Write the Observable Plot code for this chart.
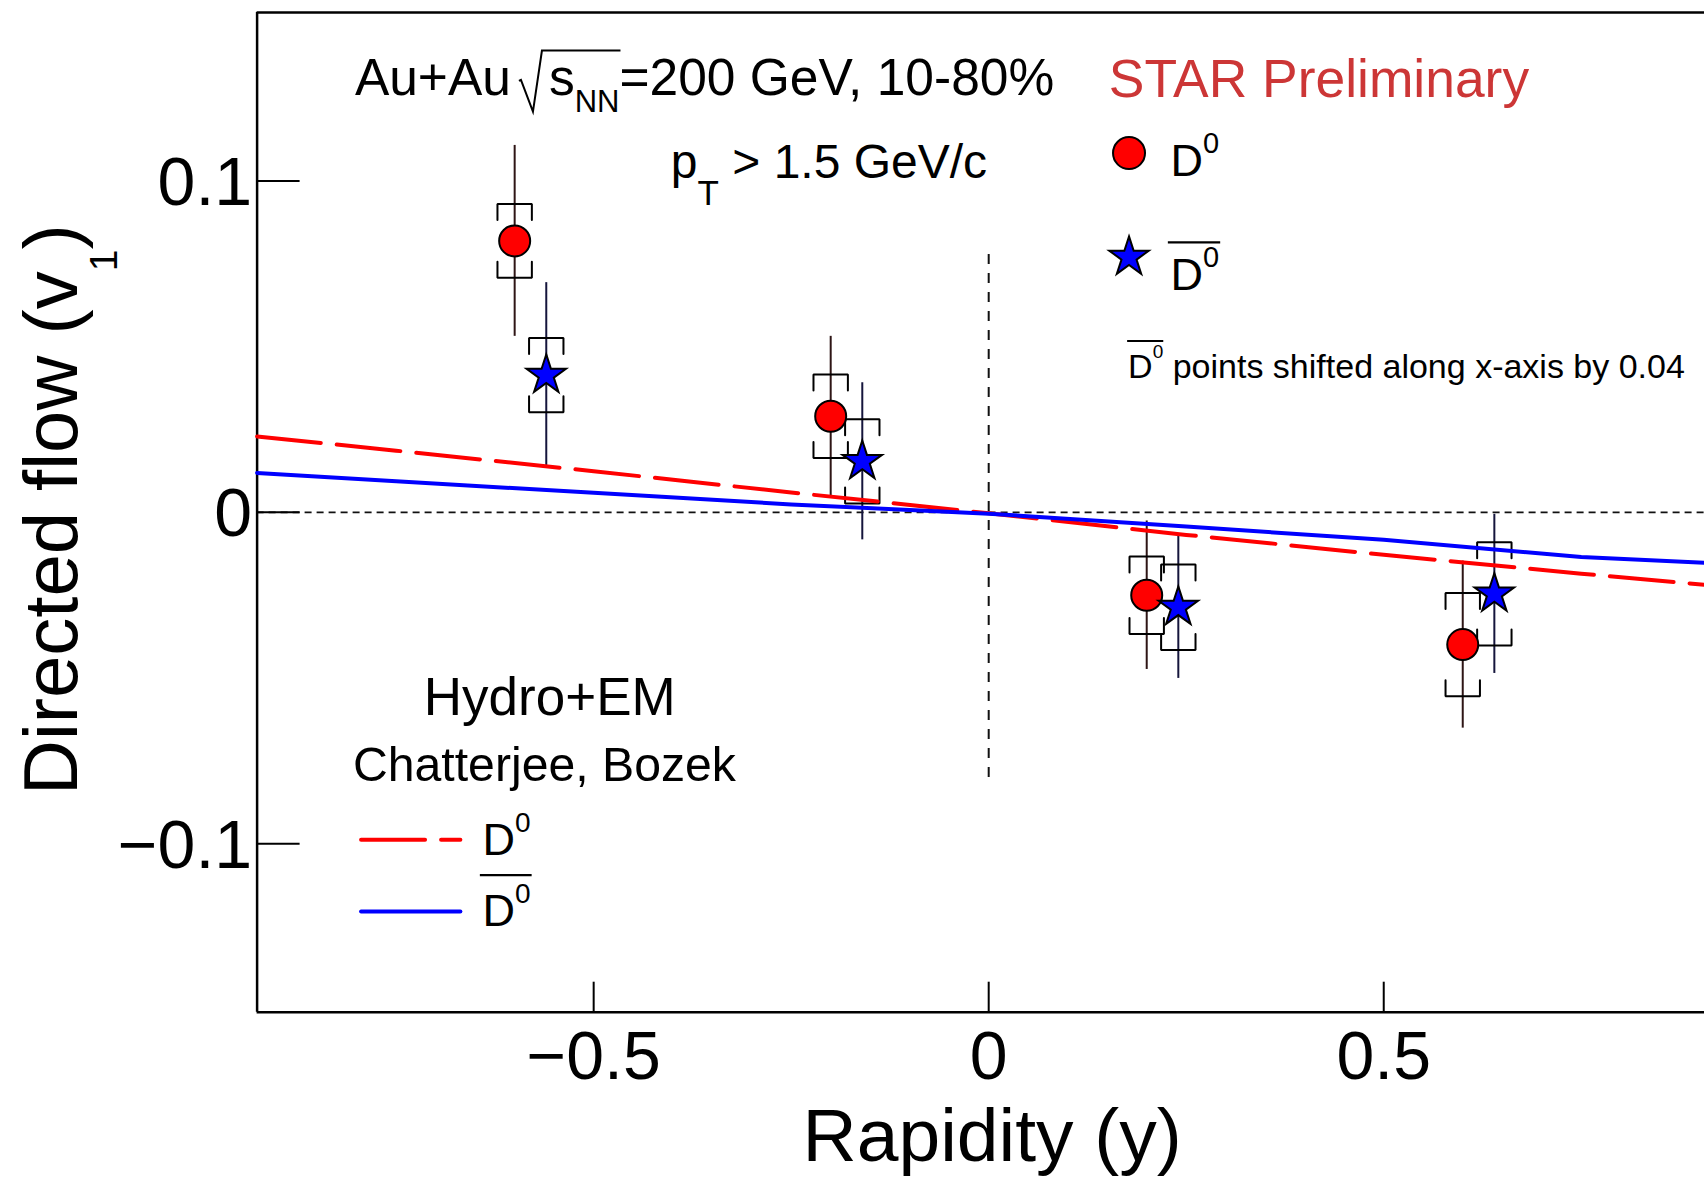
<!DOCTYPE html>
<html>
<head>
<meta charset="utf-8">
<script src="https://cdn.jsdelivr.net/npm/d3@7"></script>
<script src="https://cdn.jsdelivr.net/npm/@observablehq/plot@0.6"></script>
<style>
  html, body { margin: 0; padding: 0; background: #fff; overflow: hidden; }
  #chart { width: 1704px; height: 1179px; }
</style>
</head>
<body>
<div id="chart"></div>
<script>
// ---------------- data ----------------
const d0Rapidity = [-0.6, -0.2, 0.2, 0.6];
const d0V1       = [0.0819, 0.0290, -0.0250, -0.0399];
const d0Stat     = [0.0288, 0.0241, 0.0224, 0.0252];
const d0Sys      = [0.0111, 0.0126, 0.0117, 0.0156];

const d0barRapidity = [-0.56, -0.16, 0.24, 0.64];
const d0barV1       = [0.0414, 0.0154, -0.0286, -0.0246];
const d0barStat     = [0.0279, 0.0237, 0.0215, 0.0240];
const d0barSys      = [0.0112, 0.0127, 0.0129, 0.0156];

// Hydro+EM model (Chatterjee, Bozek)
const modelRapidity = [-0.926, -0.75, -0.5, -0.25, 0, 0.25, 0.5, 0.75, 1.0];
const modelD0V1     = [0.0229, 0.0186, 0.0124, 0.0060, -0.0003, -0.0068, -0.0128, -0.0185, -0.0239];
const modelD0barV1  = [0.0119, 0.0094, 0.0059, 0.0024, -0.0004, -0.0043, -0.0083, -0.0135, -0.0162];

const xTicks = [-0.5, 0, 0.5];
const yTicks = [-0.1, 0, 0.1];
const centerLineRange = [-0.08, 0.08];

// ---------------- layout ----------------
const W = 1704, H = 1179;
const M = {left: 256.6, right: 0, top: 12, bottom: 167.3};
const xDomain = [-0.926, 0.906];
const yDomain = [-0.1508, 0.1508];
const pxPerX = (W - M.left - M.right) / (xDomain[1] - xDomain[0]);
const pxPerY = (H - M.top - M.bottom) / (yDomain[1] - yDomain[0]);
const FONT = "'Liberation Sans', Arial, Helvetica, sans-serif";
const fmt = d => d === 0 ? "0" : d3.format(".1f")(d);

const RED = "#ff0000", BLUE = "#0000ff";

// ---------------- derived tables ----------------
const d0Rows = d0Rapidity.map((x, i) => ({x, v: d0V1[i], stat: d0Stat[i], sys: d0Sys[i]}));
const d0barRows = d0barRapidity.map((x, i) => ({x, v: d0barV1[i], stat: d0barStat[i], sys: d0barSys[i]}));
const modelRows = modelRapidity.map((x, i) => ({x, d0: modelD0V1[i], d0bar: modelD0barV1[i]}));

const BR_HALF = 17.2 / pxPerX;   // bracket half width
const BR_TICK = 16 / pxPerY;     // bracket tick length
function brackets(rows, tag) {
  const out = [];
  rows.forEach((r, i) => {
    const top = r.v + r.sys, bot = r.v - r.sys;
    const a = `${tag}${i}t`, b = `${tag}${i}b`;
    out.push({id: a, x: r.x - BR_HALF, y: top - BR_TICK}, {id: a, x: r.x - BR_HALF, y: top},
             {id: a, x: r.x + BR_HALF, y: top}, {id: a, x: r.x + BR_HALF, y: top - BR_TICK});
    out.push({id: b, x: r.x - BR_HALF, y: bot + BR_TICK}, {id: b, x: r.x - BR_HALF, y: bot},
             {id: b, x: r.x + BR_HALF, y: bot}, {id: b, x: r.x + BR_HALF, y: bot + BR_TICK});
  });
  return out;
}
const bracketRows = [...brackets(d0Rows, "a"), ...brackets(d0barRows, "b")];

// legend positions (data coordinates)
const legendMarkers = [
  {x: 0.1776, y: 0.1084, kind: "d0"},
  {x: 0.1776, y: 0.0770, kind: "d0bar"}
];
const legendLineX = [-0.7944, -0.6687];
const legendLineY = {d0: -0.0988, d0bar: -0.1204};

const plot = Plot.plot({
  width: W, height: H,
  marginLeft: M.left, marginRight: M.right, marginTop: M.top, marginBottom: M.bottom,
  x: {domain: xDomain},
  y: {domain: yDomain},
  style: {fontFamily: FONT, background: "white", color: "black"},
  marks: [
    // zero / center guide lines
    Plot.ruleY([0], {stroke: "#111", strokeWidth: 1.7, strokeDasharray: "7,5"}),
    Plot.ruleX([0], {y1: centerLineRange[0], y2: centerLineRange[1], stroke: "#111", strokeWidth: 2, strokeDasharray: "10,9"}),
    // frame (left, top, bottom)
    Plot.ruleX([xDomain[0]], {stroke: "black", strokeWidth: 2.5}),
    Plot.ruleY([yDomain[0], yDomain[1]], {stroke: "black", strokeWidth: 2.5}),
    // inward ticks
    Plot.ruleY(yTicks, {x1: xDomain[0], x2: xDomain[0] + 43 / pxPerX, stroke: "black", strokeWidth: 2}),
    Plot.ruleX(xTicks, {y1: yDomain[0], y2: yDomain[0] + 30 / pxPerY, stroke: "black", strokeWidth: 2}),
    // tick labels
    Plot.axisX({ticks: xTicks, tickSize: 0, tickPadding: 19, fontSize: 68, tickFormat: fmt, label: null, anchor: "bottom"}),
    Plot.axisY({ticks: yTicks, tickSize: 0, tickPadding: 5, fontSize: 68, tickFormat: fmt, label: null, anchor: "left", dy: 2}),
    // statistical error bars
    Plot.ruleX(d0Rows, {x: "x", y1: d => d.v - d.stat, y2: d => d.v + d.stat, stroke: "#2e1515", strokeWidth: 2}),
    Plot.ruleX(d0barRows, {x: "x", y1: d => d.v - d.stat, y2: d => d.v + d.stat, stroke: "#15153c", strokeWidth: 2}),
    // systematic brackets
    Plot.line(bracketRows, {x: "x", y: "y", z: "id", stroke: "black", strokeWidth: 2, strokeLinejoin: "miter", curve: "linear"}),
    // model curves
    Plot.line(modelRows, {x: "x", y: "d0", stroke: RED, strokeWidth: 4, strokeDasharray: "64,16"}),
    Plot.line(modelRows, {x: "x", y: "d0bar", stroke: BLUE, strokeWidth: 4}),
    // data markers
    Plot.dot(d0Rows, {x: "x", y: "v", r: 15.5, fill: RED, stroke: "black", strokeWidth: 2}),
    Plot.dot(d0barRows, {x: "x", y: "v", r: 12.4, symbol: "star", fill: BLUE, stroke: "black", strokeWidth: 2}),
    // legend markers
    Plot.dot(legendMarkers.filter(d => d.kind === "d0"), {x: "x", y: "y", r: 16, fill: RED, stroke: "black", strokeWidth: 2}),
    Plot.dot(legendMarkers.filter(d => d.kind === "d0bar"), {x: "x", y: "y", r: 12.4, symbol: "star", fill: BLUE, stroke: "black", strokeWidth: 2}),
    // legend lines
    Plot.line(legendLineX.map(x => ({x, y: legendLineY.d0})), {x: "x", y: "y", stroke: RED, strokeWidth: 4, strokeDasharray: "64,16"}),
    Plot.line(legendLineX.map(x => ({x, y: legendLineY.d0bar})), {x: "x", y: "y", stroke: BLUE, strokeWidth: 4})
  ]
});

document.getElementById("chart").append(plot);

// ---------------- rich text annotations ----------------
const sx = plot.scale("x"), sy = plot.scale("y");
const X = v => sx.apply(v), Y = v => sy.apply(v);
const svg = d3.select(plot);
const g = svg.append("g").attr("font-family", FONT);

function rich(x, y, size, parts, opts = {}) {
  const t = g.append("text").attr("x", x).attr("y", y)
    .attr("font-size", size).attr("fill", opts.fill || "black")
    .attr("text-anchor", opts.anchor || "start");
  if (opts.transform) t.attr("transform", opts.transform);
  let shift = 0;
  for (const p of parts) {
    const s = t.append("tspan").text(p.t);
    const target = p.shift || 0;
    if (target !== shift) { s.attr("dy", target - shift); shift = target; }
    if (p.size) s.attr("font-size", p.size);
    if (p.dx) s.attr("dx", p.dx);
  }
  return t.node();
}
function overline(node, i0, i1, y, pad0 = 2.7, pad1 = 1, w = 2.2) {
  const a = node.getStartPositionOfChar(i0).x - pad0;
  const b = node.getEndPositionOfChar(i1).x + pad1;
  g.append("line").attr("x1", a).attr("x2", b).attr("y1", y).attr("y2", y)
    .attr("stroke", "black").attr("stroke-width", w);
}

// Au+Au sqrt(sNN)=200 GeV, 10-80%
{
  const base = Y(0.1258);
  const n = rich(X(-0.8016), base, 51.5, [
    {t: "Au+Au"}, {t: "s", dx: 38}, {t: "NN", size: 31, shift: 17}, {t: "=200 GeV, 10-80%", shift: 0}
  ]);
  const a = n.getEndPositionOfChar(4).x;
  const e = n.getEndPositionOfChar(7).x + 1;
  g.append("path")
    .attr("d", `M${a + 8},${base - 14} L${a + 10},${base - 15} L${a + 22},${base + 16.7} L${a + 31},${base - 44.3} L${e},${base - 44.3}`)
    .attr("fill", "none").attr("stroke", "black").attr("stroke-width", 2);
}
// pT > 1.5 GeV/c
rich(X(-0.4017), Y(0.1007), 48, [{t: "p"}, {t: "T", size: 35, shift: 27}, {t: " > 1.5 GeV/c", shift: 0}]);
// STAR Preliminary
rich(X(0.1527), Y(0.1251), 53.4, [{t: "STAR Preliminary"}], {fill: "#cc3636"});
// legend: D0, anti-D0
rich(X(0.2308), Y(0.1014), 45, [{t: "D"}, {t: "0", size: 29, shift: -23}]);
{
  const base = Y(0.0669);
  const n = rich(X(0.2308), base, 45, [{t: "D"}, {t: "0", size: 29, shift: -23}]);
  overline(n, 0, 1, base - 47.7);
}
// note
{
  const base = Y(0.0403);
  const n = rich(X(0.1771), base, 34, [{t: "D"}, {t: "0", size: 19, shift: -20}, {t: " points shifted along x-axis by 0.04", shift: 0}]);
  overline(n, 0, 1, base - 37.3, 1, 0, 2);
}
// model legend
rich(X(-0.7143), Y(-0.0613), 53, [{t: "Hydro+EM"}]);
rich(X(-0.8041), Y(-0.0812), 48.2, [{t: "Chatterjee, Bozek"}]);
rich(X(-0.64), Y(-0.1035), 45, [{t: "D"}, {t: "0", size: 28, shift: -23}]);
{
  const base = Y(-0.1249);
  const n = rich(X(-0.64), base, 45, [{t: "D"}, {t: "0", size: 28, shift: -23}]);
  overline(n, 0, 1, base - 50.7);
}
// axis titles
rich(X(0) + 4, 1161, 75, [{t: "Rapidity (y)"}], {anchor: "middle"});
rich(0, 0, 76, [{t: "Directed flow (v"}, {t: "1", size: 39, shift: 40}, {t: ")", shift: 0}],
     {transform: "translate(76.7,795) rotate(-90)"});
</script>
</body>
</html>
